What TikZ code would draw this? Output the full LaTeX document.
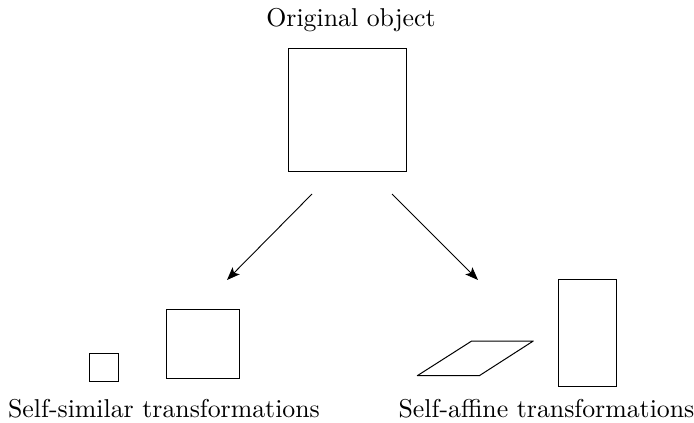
\documentclass[tikz,border=0pt]{standalone}
\usepackage{fontspec}
\setmainfont{lmroman10-regular.otf}
\usetikzlibrary{arrows.meta}
\begin{document}
\begin{tikzpicture}[x=1pt,y=-1pt,
  boxshape/.style={draw,line width=1pt,inner sep=0pt,outer sep=0pt},
  lbl/.style={anchor=base,inner sep=0pt,font=\fontsize{25.8}{30}\selectfont},
  arr/.style={line width=0.9pt,-{Stealth[length=13pt,width=10pt,inset=3pt]}}]
\useasboundingbox (0,0) rectangle (694,423);
\node[lbl] (title) at (351,27) {Original object};
\node[boxshape,minimum width=118pt,minimum height=123pt] (orig) at (347,109.5) {};
\coordinate (a1s) at (312,194);
\coordinate (a1e) at (227,280);
\coordinate (a2s) at (392,194);
\coordinate (a2e) at (478,280);
\draw[arr] (a1s) -- (a1e);
\draw[arr] (a2s) -- (a2e);
\node[boxshape,minimum width=29.5pt,minimum height=28pt] (small) at (104,367) {};
\node[boxshape,minimum width=72.5pt,minimum height=69pt] (medium) at (203,343.8) {};
\draw[line width=1pt,line join=round] (417.3,375.7) -- (471.7,341) -- (533.3,341) -- (479.3,375.7) -- cycle;
\node[boxshape,minimum width=58pt,minimum height=107.5pt] (rect) at (587.7,333) {};
\node[lbl] (sim) at (164,417) {Self-similar transformations};
\node[lbl] (aff) at (546.5,417) {Self-affine transformations};
\end{tikzpicture}
\end{document}
